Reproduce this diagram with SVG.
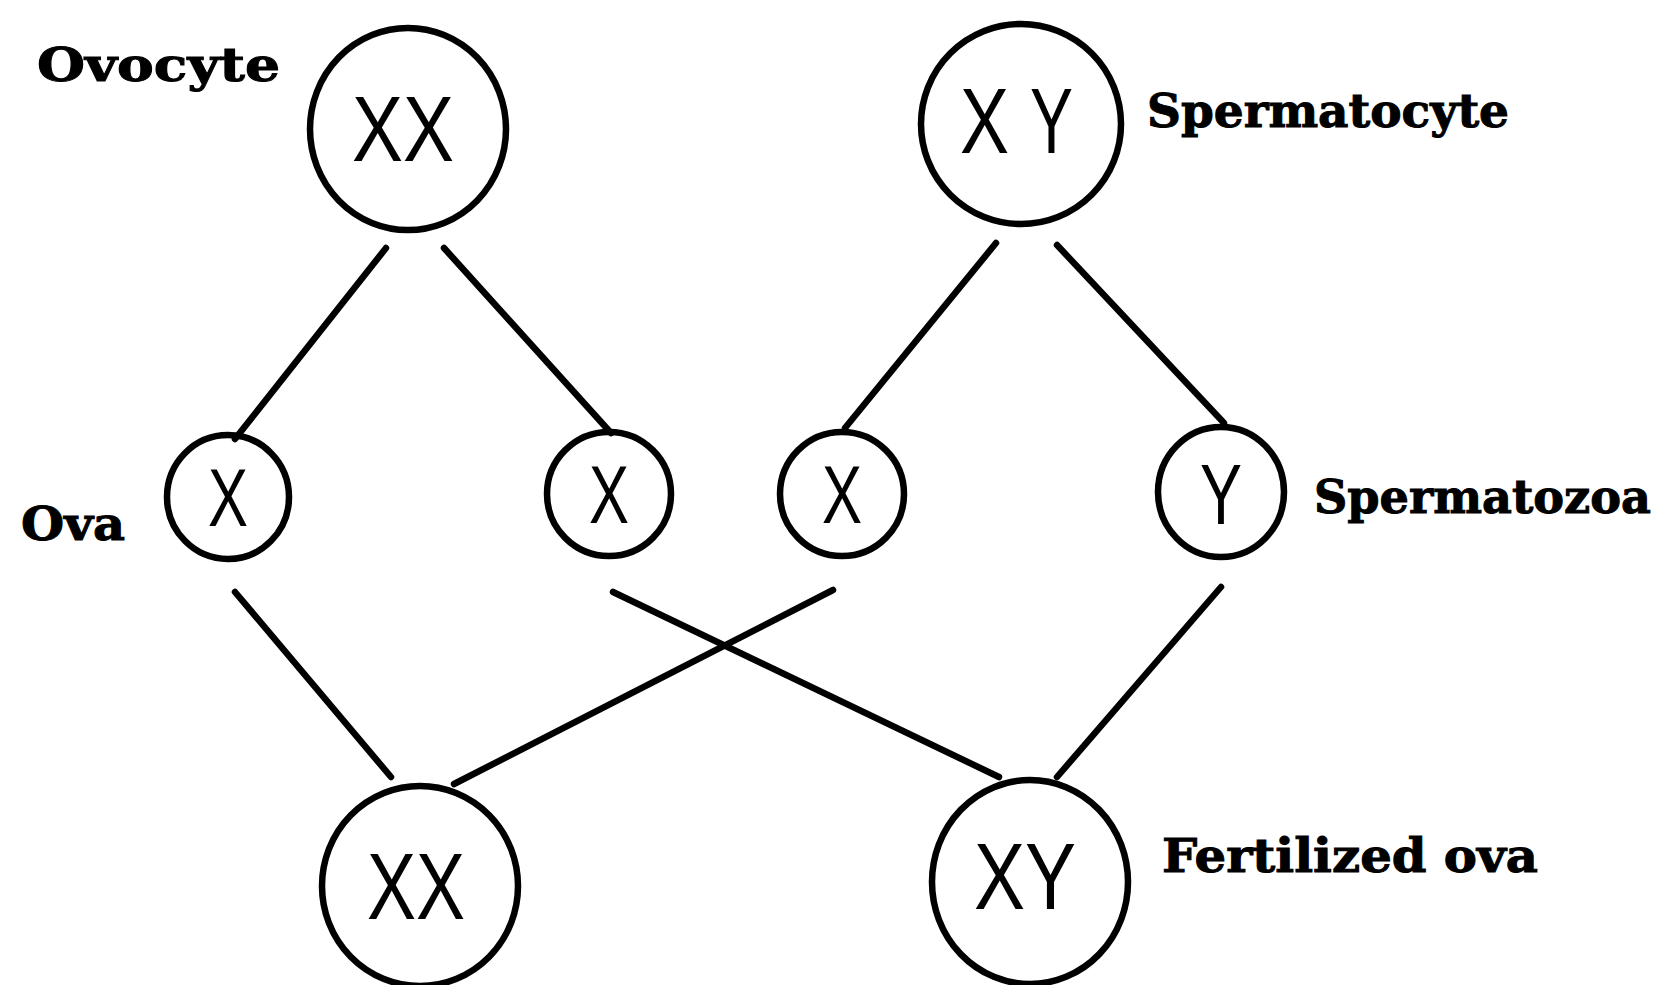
<svg xmlns="http://www.w3.org/2000/svg" width="1657" height="985" viewBox="0 0 1657 985">
<style>
.cell{fill:none;stroke:#000;stroke-width:6.5}
.chr{font-family:"Liberation Sans",Arial,sans-serif;fill:#000}
.lbl{font-family:"DejaVu Serif","Liberation Serif",serif;font-weight:bold;fill:#000;font-size:46px;stroke:#000;stroke-width:1}
.con line{stroke:#000;stroke-width:6.5;stroke-linecap:round}
</style>
<rect width="1657" height="985" fill="#fff"/>
<g id="ovocyte">
<ellipse class="cell" cx="408" cy="129" rx="98" ry="101"/>
<text class="chr" x="352" y="161" font-size="92" textLength="102" lengthAdjust="spacingAndGlyphs">XX</text>
<text class="lbl" x="37" y="81" textLength="243" lengthAdjust="spacingAndGlyphs">Ovocyte</text>
</g>
<g id="spermatocyte">
<ellipse class="cell" cx="1021" cy="124" rx="100" ry="100"/>
<text class="chr" x="960" y="153" font-size="92" textLength="49" lengthAdjust="spacingAndGlyphs">X</text>
<text class="chr" x="1030" y="153" font-size="92" textLength="43" lengthAdjust="spacingAndGlyphs">Y</text>
<text class="lbl" x="1147" y="127" textLength="362" lengthAdjust="spacingAndGlyphs">Spermatocyte</text>
</g>
<g id="ovum1">
<ellipse class="cell" cx="228" cy="497" rx="61" ry="62"/>
<text class="chr" x="208" y="526" font-size="81" textLength="40" lengthAdjust="spacingAndGlyphs">X</text>
<text class="lbl" x="21" y="540" textLength="104" lengthAdjust="spacingAndGlyphs">Ova</text>
</g>
<g id="ovum2">
<ellipse class="cell" cx="609" cy="494" rx="62" ry="62"/>
<text class="chr" x="589" y="523" font-size="81" textLength="40" lengthAdjust="spacingAndGlyphs">X</text>
</g>
<g id="sperm-x">
<ellipse class="cell" cx="842" cy="494" rx="62" ry="62"/>
<text class="chr" x="822" y="523" font-size="81" textLength="40" lengthAdjust="spacingAndGlyphs">X</text>
</g>
<g id="sperm-y">
<ellipse class="cell" cx="1221" cy="492" rx="63" ry="65"/>
<text class="chr" x="1200" y="524" font-size="86" textLength="42" lengthAdjust="spacingAndGlyphs">Y</text>
<text class="lbl" x="1314" y="513" textLength="337" lengthAdjust="spacingAndGlyphs">Spermatozoa</text>
</g>
<g id="zygote-xx">
<ellipse class="cell" cx="420" cy="886" rx="98" ry="100"/>
<text class="chr" x="367" y="919" font-size="95" textLength="98" lengthAdjust="spacingAndGlyphs">XX</text>
</g>
<g id="zygote-xy">
<ellipse class="cell" cx="1030" cy="882" rx="98" ry="102"/>
<text class="chr" x="974" y="909" font-size="94" textLength="102" lengthAdjust="spacingAndGlyphs">XY</text>
</g>
<g id="zygote-xy-label">
<text class="lbl" x="1162" y="872" textLength="376" lengthAdjust="spacingAndGlyphs">Fertilized ova</text>
</g>
<g id="connectors" class="con">
<line x1="386" y1="248" x2="235" y2="439"/>
<line x1="444" y1="248" x2="611" y2="433"/>
<line x1="996" y1="243" x2="845" y2="428"/>
<line x1="1057" y1="245" x2="1224" y2="423"/>
<line x1="235" y1="592" x2="391" y2="777"/>
<line x1="613" y1="592" x2="999" y2="777"/>
<line x1="833" y1="590" x2="454" y2="784"/>
<line x1="1221" y1="587" x2="1057" y2="777"/>
</g>
</svg>
